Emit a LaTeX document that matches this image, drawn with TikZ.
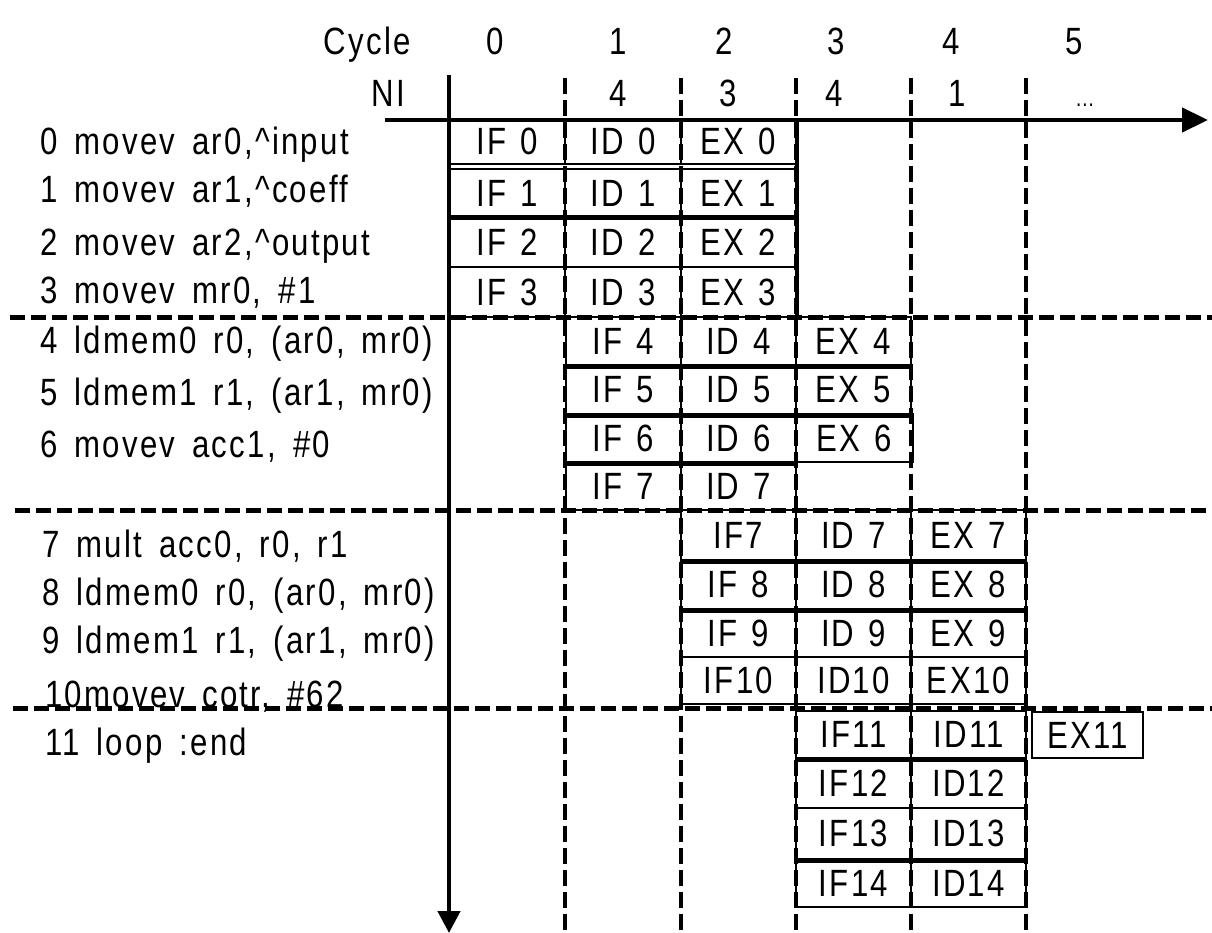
\documentclass[tikz,border=0pt]{standalone}
\usepackage{fontspec}
\setmainfont{Liberation Sans}[FakeStretch=0.82,LetterSpace=6,WordSpace=1.3]
\usetikzlibrary{arrows.meta}

% instruction text: same face, wider word gaps
\newcommand\labelfont{\fontsize{38}{42}\selectfont\spaceskip=17pt plus 0pt minus 0pt\relax}

\tikzset{
  txt/.style={inner sep=0pt, font=\fontsize{38}{42}\selectfont},
  lbl/.style={inner sep=0pt, anchor=base west, font=\labelfont},
  head/.style={txt, anchor=base},
  cellbox/.style={txt, draw, rectangle, line width=2pt},
  axis/.style={line width=4.5pt, -{Triangle[length=26pt,width=24pt]}},
  gridv/.style={line width=4pt, dash pattern=on 16pt off 6pt},
  gridh/.style={line width=5pt, dash pattern=on 15pt off 6pt},
  sepline/.style={line width=5pt},
}

% one pipeline stage: name, text, x0, x1, y0, y1
\newcommand\stagecell[6]{%
  \node[cellbox, minimum width={(#4-#3)*1pt}, minimum height={(#6-#5)*1pt}]
    (#1) at ({(#3+#4)/2},{(#5+#6)/2}) {#2};}

\begin{document}
\begin{tikzpicture}[x=1pt, y=-1pt]
\useasboundingbox (0,0) rectangle (1212,933);

% header rows
\node[txt, anchor=base east] (cyc) at (411,55) {Cycle};
\node[txt, anchor=base east] (ni) at (405,107) {NI};
\node[head] (c0) at (495,55) {0};
\node[head] (c1) at (618,55) {1};
\node[head] (c2) at (724,55) {2};
\node[head] (c3) at (836,55) {3};
\node[head] (c4) at (951,55) {4};
\node[head] (c5) at (1074,55) {5};
\node[head] (n1) at (618,107) {4};
\node[head] (n2) at (728,107) {3};
\node[head] (n3) at (834,107) {4};
\node[head] (n4) at (957,107) {1};
\node[head] (n5) at (1085,107) {\fontsize{24}{28}\selectfont\dots};

% instruction list
\node[lbl] (l0) at (40,155) {0 movev ar0,\textasciicircum input};
\node[lbl] (l1) at (40,203) {1 movev ar1,\textasciicircum coeff};
\node[lbl] (l2) at (40,255) {2 movev ar2,\textasciicircum output};
\node[lbl] (l3) at (40,303) {3 movev mr0, \#1};
\node[lbl] (l4) at (40,353) {4 ldmem0 r0, (ar0, mr0)};
\node[lbl] (l5) at (40,405) {5 ldmem1 r1, (ar1, mr0)};
\node[lbl] (l6) at (40,457) {6 movev acc1, \#0};
\node[lbl] (l7) at (42,557) {7 mult acc0, r0, r1};
\node[lbl] (l8) at (42,605) {8 ldmem0 r0, (ar0, mr0)};
\node[lbl] (l9) at (42,653) {9 ldmem1 r1, (ar1, mr0)};
\node[lbl] (l10) at (45,707) {10movev cotr, \#62};
\node[lbl] (l11) at (45,755) {11 loop :end};

% group 0-3
\stagecell{if0}{IF 0}{449}{565}{119}{164}
\stagecell{id0}{ID 0}{565}{681}{119}{164}
\stagecell{ex0}{EX 0}{681}{796}{119}{164}
\stagecell{if1}{IF 1}{449}{565}{169}{217}
\stagecell{id1}{ID 1}{565}{681}{169}{217}
\stagecell{ex1}{EX 1}{681}{796}{169}{217}
\stagecell{if2}{IF 2}{449}{565}{217}{267}
\stagecell{id2}{ID 2}{565}{681}{217}{267}
\stagecell{ex2}{EX 2}{681}{796}{217}{267}
\stagecell{if3}{IF 3}{449}{565}{267}{317}
\stagecell{id3}{ID 3}{565}{681}{267}{317}
\stagecell{ex3}{EX 3}{681}{796}{267}{317}

% group 4-7
\stagecell{if4}{IF 4}{566}{681}{317}{365}
\stagecell{id4}{ID 4}{681}{796}{317}{365}
\stagecell{ex4}{EX 4}{796}{911}{317}{365}
\stagecell{if5}{IF 5}{566}{681}{365}{414}
\stagecell{id5}{ID 5}{681}{796}{365}{414}
\stagecell{ex5}{EX 5}{796}{911}{365}{414}
\stagecell{if6}{IF 6}{566}{681}{414}{462}
\stagecell{id6}{ID 6}{681}{796}{414}{462}
\stagecell{ex6}{EX 6}{796}{913}{414}{462}
\stagecell{if7a}{IF 7}{566}{681}{462}{510}
\stagecell{id7a}{ID 7}{681}{796}{462}{510}

% group 7-10
\stagecell{if7}{IF7}{681}{796}{510}{560}
\stagecell{id7}{ID 7}{796}{911}{510}{560}
\stagecell{ex7}{EX 7}{911}{1026}{510}{560}
\stagecell{if8}{IF 8}{681}{796}{560}{609}
\stagecell{id8}{ID 8}{796}{911}{560}{609}
\stagecell{ex8}{EX 8}{911}{1026}{560}{609}
\stagecell{if9}{IF 9}{681}{796}{609}{657}
\stagecell{id9}{ID 9}{796}{911}{609}{657}
\stagecell{ex9}{EX 9}{911}{1026}{609}{657}
\stagecell{if10}{IF10}{681}{796}{657}{704}
\stagecell{id10}{ID10}{796}{911}{657}{704}
\stagecell{ex10}{EX10}{911}{1026}{657}{704}

% group 11-14
\stagecell{if11}{IF11}{796}{911}{711}{758}
\stagecell{id11}{ID11}{911}{1026}{711}{758}
\stagecell{ex11}{EX11}{1032}{1143}{712}{758}
\stagecell{if12}{IF12}{796}{911}{758}{808}
\stagecell{id12}{ID12}{911}{1026}{758}{808}
\stagecell{if13}{IF13}{796}{911}{808}{859}
\stagecell{id13}{ID13}{911}{1026}{808}{859}
\stagecell{if14}{IF14}{796}{911}{859}{907}
\stagecell{id14}{ID14}{911}{1026}{859}{907}

% heavier row separators
\draw[sepline] (if1.south west) -- (ex1.south east);
\draw[sepline] (if4.south west) -- (ex4.south east);
\draw[sepline] (if5.south west) -- (ex5.south east);
\draw[sepline] (if6.south west) -- (id6.south east);
\draw[sepline] (if7.south west) -- (ex7.south east);
\draw[sepline] (if8.south west) -- (ex8.south east);
\draw[sepline] (if11.south west) -- (id11.south east);
\draw[sepline] (if13.south west) -- (id13.south east);
\draw[line width=4pt] (ex0.north east) -- (ex3.south east);

% cycle boundaries
\foreach \cx in {565,681,796,911,1026}
  \draw[gridv] (\cx,78) -- (\cx,933);

% group boundaries
\draw[gridh] (10,317) -- (1212,317);
\draw[gridh] (15,510) -- (1212,510);
\draw[gridh] (13,708) -- (1212,708);

% time and instruction axes
\coordinate (tx0) at (385,120);
\coordinate (tx1) at (1208,120);
\coordinate (ty0) at (449,75);
\coordinate (ty1) at (449,933);
\draw[axis] (tx0) -- (tx1);
\draw[axis, -{Triangle[length=22pt,width=22pt]}] (ty0) -- (ty1);
\end{tikzpicture}
\end{document}
